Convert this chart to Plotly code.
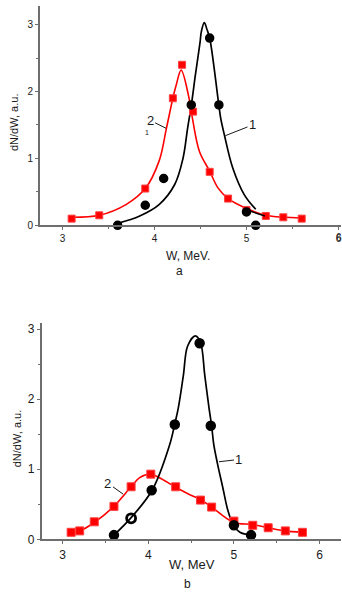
import plotly.graph_objects as go

W_PX, H_PX = 342, 597

# ---------------- Panel a data ----------------
a_black_w = [3.6, 3.9, 4.1, 4.4, 4.6, 4.7, 5.0, 5.1]
a_black_y = [0.0, 0.3, 0.7, 1.8, 2.8, 1.8, 0.2, 0.0]
a_red_w = [3.1, 3.4, 3.9, 4.2, 4.3, 4.42, 4.6, 4.8, 5.0, 5.21, 5.4, 5.6]
a_red_y = [0.1, 0.15, 0.55, 1.9, 2.4, 1.7, 0.8, 0.4, 0.23, 0.14, 0.12, 0.1]

a_black_fit_w = [3.6, 3.84, 4.05, 4.22, 4.31, 4.36, 4.40, 4.444, 4.495, 4.51, 4.542, 4.57, 4.60, 4.70, 4.72, 4.76, 4.85, 4.975, 5.10]
a_black_fit_y = [0.03, 0.14, 0.31, 0.61, 1.0, 1.45, 1.79, 2.24, 2.73, 2.9, 3.03, 2.93, 2.80, 1.79, 1.60, 1.35, 0.86, 0.46, 0.24]
a_black_tail_w = [4.975, 5.20]
a_black_tail_y = [0.24, 0.14]
a_red_fit_w = [3.10, 3.40, 3.69, 3.90, 4.05, 4.13, 4.20, 4.235, 4.29, 4.37, 4.41, 4.49, 4.60, 4.69, 4.80, 4.99, 5.21, 5.61]
a_red_fit_y = [0.12, 0.15, 0.31, 0.55, 0.96, 1.45, 1.90, 2.09, 2.32, 1.94, 1.62, 1.10, 0.81, 0.56, 0.40, 0.26, 0.15, 0.11]

# ---------------- Panel b data ----------------
b_black_w = [3.6, 3.8, 4.04, 4.31, 4.6, 4.73, 5.0, 5.2]
b_black_y = [0.06, 0.3, 0.7, 1.64, 2.8, 1.62, 0.2, 0.06]
b_red_w = [3.1, 3.2, 3.37, 3.6, 3.8, 4.03, 4.32, 4.61, 4.74, 5.0, 5.22, 5.4, 5.6, 5.8]
b_red_y = [0.1, 0.12, 0.25, 0.47, 0.75, 0.93, 0.75, 0.56, 0.46, 0.26, 0.2, 0.165, 0.12, 0.1]

b_black_fit_w = [3.6, 3.8, 4.045, 4.25, 4.31, 4.35, 4.41, 4.46, 4.55, 4.61, 4.66, 4.71, 4.74, 4.765, 4.81, 4.87, 4.93, 4.99, 5.07, 5.20]
b_black_fit_y = [0.06, 0.31, 0.70, 1.35, 1.65, 1.87, 2.34, 2.76, 2.905, 2.81, 2.34, 1.87, 1.62, 1.35, 1.07, 0.74, 0.41, 0.21, 0.10, 0.06]
b_red_fit_w = [3.10, 3.20, 3.37, 3.59, 3.80, 3.90, 4.03, 4.13, 4.31, 4.48, 4.62, 4.74, 4.99, 5.22, 5.40, 5.59, 5.80]
b_red_fit_y = [0.10, 0.12, 0.24, 0.46, 0.75, 0.88, 0.93, 0.88, 0.75, 0.64, 0.56, 0.46, 0.245, 0.21, 0.165, 0.12, 0.10]

x_ticks = [3, 4, 5, 6]
y_ticks = [0, 1, 2, 3]

RED = "#ff0000"
BLACK = "#000000"
AXIS = "#6e6e6e"
TXT = "#1a1a1a"
FONT = "Liberation Sans, Arial, sans-serif"

fig = go.Figure()

def add_panel(xa, ya, bw, by, rw, ry, bfw, bfy, rfw, rfy, black_symbols=None, black_lw=1.5, msize=8):
    fig.add_trace(go.Scatter(x=rfw, y=rfy, mode="lines", line=dict(color=RED, width=1.6, shape="spline", smoothing=1.0),
                             xaxis=xa, yaxis=ya, hoverinfo="skip"))
    fig.add_trace(go.Scatter(x=bfw, y=bfy, mode="lines", line=dict(color=BLACK, width=1.7, shape="spline", smoothing=1.0),
                             xaxis=xa, yaxis=ya, hoverinfo="skip"))
    fig.add_trace(go.Scatter(x=rw, y=ry, mode="markers",
                             marker=dict(symbol="square", size=msize - 1, color=RED, line=dict(color="#ff4040", width=1)),
                             xaxis=xa, yaxis=ya, cliponaxis=False))
    fig.add_trace(go.Scatter(x=bw, y=by, mode="markers",
                             marker=dict(symbol=black_symbols or "circle", size=msize, color=BLACK,
                                         line=dict(color=BLACK, width=black_lw)),
                             xaxis=xa, yaxis=ya, cliponaxis=False))

add_panel("x", "y", a_black_w, a_black_y, a_red_w, a_red_y, a_black_fit_w, a_black_fit_y, a_red_fit_w, a_red_fit_y)
fig.add_trace(go.Scatter(x=a_black_tail_w, y=a_black_tail_y, mode="lines", line=dict(color=BLACK, width=1.4),
                         xaxis="x", yaxis="y", hoverinfo="skip"))
b_symbols = ["circle", "circle-open", "circle", "circle", "circle", "circle", "circle", "circle"]
b_lw = [1.5, 2.8, 1.5, 1.5, 1.5, 1.5, 1.5, 1.5]
add_panel("x2", "y2", b_black_w, b_black_y, b_red_w, b_red_y, b_black_fit_w, b_black_fit_y, b_red_fit_w, b_red_fit_y,
          black_symbols=b_symbols, black_lw=b_lw, msize=9)

def px_x(p):
    return p / W_PX

def px_y(p):
    return 1 - p / H_PX

def axis_common(size):
    return dict(showline=True, linecolor=AXIS, linewidth=1.6, ticks="outside", ticklen=3, tickwidth=1.2,
                tickcolor=AXIS, showgrid=False, zeroline=False, tickfont=dict(family=FONT, size=size, color=TXT),
                ticklabeloverflow="allow",
                minor=dict(ticks="outside", ticklen=2, tickcolor=AXIS, dtick=0.5, showgrid=False))

fig.update_layout(
    width=W_PX, height=H_PX, margin=dict(l=0, r=0, t=0, b=0),
    paper_bgcolor="white", plot_bgcolor="white", showlegend=False,
    xaxis=dict(domain=[px_x(40), 1], range=[2.755, 6.027], tickvals=x_ticks, anchor="y", **axis_common(10)),
    yaxis=dict(domain=[px_y(228), px_y(6)], range=[0, 3.28], tickvals=y_ticks, anchor="x", **axis_common(10)),
    xaxis2=dict(domain=[px_x(41.7), 1], range=[2.755, 6.25], tickvals=x_ticks, anchor="y2", **axis_common(12)),
    yaxis2=dict(domain=[px_y(545.7), px_y(326.7)], range=[0, 3.09], tickvals=y_ticks, anchor="x2", **axis_common(12)),
)

ann = []
def txt(x, y, s, size=12, angle=0):
    ann.append(dict(x=x, y=y, xref="paper", yref="paper", text=s, showarrow=False, textangle=angle,
                    font=dict(family=FONT, size=size, color=TXT), xanchor="center", yanchor="middle"))

txt(px_x(189), px_y(259), "W, MeV.", 12)
txt(px_x(180), px_y(274), "a", 12)
txt(px_x(13.5), px_y(124), "dN/dW, a.u.", 11, -90)
txt(px_x(193), px_y(571), "W, MeV", 13)
txt(px_x(188), px_y(591), "b", 12)
txt(px_x(16.5), px_y(444), "dN/dW, a.u.", 11, -90)
# tick label "6" at the clipped right edge of panel a
txt(px_x(339.5), px_y(240.5), "6", 10)

def label(xa, ya, tx, ty, px_, py_, s, size=13):
    ann.append(dict(x=px_, y=py_, xref=xa, yref=ya, ax=tx, ay=ty, axref=xa, ayref=ya, text=s,
                    showarrow=True, arrowhead=0, arrowwidth=1, arrowcolor=TXT, standoff=0, startstandoff=0,
                    font=dict(family=FONT, size=size, color=TXT)))

label("x", "y", 5.065, 1.50, 4.77, 1.34, "1")
label("x", "y", 3.953, 1.57, 4.127, 1.45, "2")
ann.append(dict(x=3.915, y=1.39, xref="x", yref="y", text="1", showarrow=False,
                font=dict(family=FONT, size=7, color=TXT)))
label("x2", "y2", 5.059, 1.14, 4.826, 1.107, "1")
label("x2", "y2", 3.53, 0.80, 3.707, 0.645, "2")

fig.update_layout(annotations=ann)
fig.write_html("out.html")
